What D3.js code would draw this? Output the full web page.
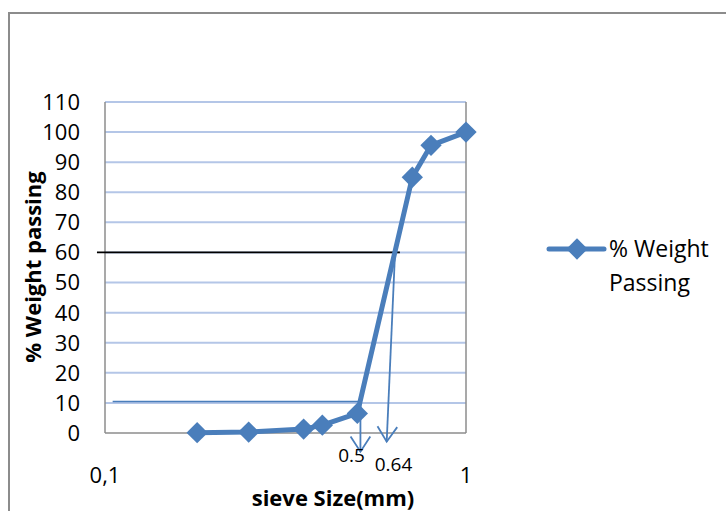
<!DOCTYPE html>
<html>
<head>
<meta charset="utf-8">
<script src="https://cdn.jsdelivr.net/npm/d3@7"></script>
<style>
  html, body { margin: 0; padding: 0; background: #fff; }
  svg { display: block; font-family: "Open Sans", sans-serif; }
</style>
</head>
<body>
<div id="chart"></div>
<script>
// sieve analysis data
var sieveSizes = [0.18, 0.25, 0.355, 0.4, 0.5, 0.71, 0.8, 1.0];
var weightPassing = [0.1, 0.3, 1.3, 2.6, 6.5, 85, 95.6, 100];
var yTicks = [0, 10, 20, 30, 40, 50, 60, 70, 80, 90, 100, 110];
var xTicks = [0.1, 1];
var xTickLabels = ['0,1', '1'];

// drawn annotations (data units)
var d60Line = { x: [0.095, 0.656], y: 60 };
var d10Line = { x: [0.105, 0.51], y: 10.5 };
var arrows = [
  { from: [0.51, 10.5], to: [0.51, -6.2] },
  { from: [0.636, 60], to: [0.603, -2.9] }
];
var arrowLabels = [
  { text: '0.5', x: 0.482, y: -9.5 },
  { text: '0.64', x: 0.63, y: -12.6 }
];

var W = 726, H = 511;
var blue = '#4a7ebb';

var svg = d3.select('#chart').append('svg')
  .attr('width', W).attr('height', H);

// chart area border (cropped by the picture)
svg.append('rect')
  .attr('x', 9).attr('y', 13)
  .attr('width', 900).attr('height', 700)
  .attr('fill', 'none').attr('stroke', '#8c8c8c').attr('stroke-width', 2);

var x = d3.scaleLog().domain([0.1, 1]).range([105, 466]);
var y = d3.scaleLinear().domain([0, 110]).range([433, 102]);

// gridlines
svg.append('g').selectAll('line')
  .data(yTicks.slice(1))
  .join('line')
  .attr('x1', x(0.1)).attr('x2', x(1))
  .attr('y1', function (d) { return y(d); })
  .attr('y2', function (d) { return y(d); })
  .attr('stroke', '#b4c6e7').attr('stroke-width', 2);

// plot border: left, right, bottom
var border = svg.append('g').attr('stroke', '#8c8c8c').attr('stroke-width', 1.5);
border.append('line').attr('x1', x(0.1)).attr('x2', x(0.1)).attr('y1', y(110)).attr('y2', y(0));
border.append('line').attr('x1', x(1)).attr('x2', x(1)).attr('y1', y(110)).attr('y2', y(0));
border.append('line').attr('x1', x(0.1)).attr('x2', x(1)).attr('y1', y(0)).attr('y2', y(0));

// y tick labels
svg.append('g').selectAll('text')
  .data(yTicks)
  .join('text')
  .attr('x', 80)
  .attr('y', function (d) { return y(d); })
  .attr('dy', '0.36em')
  .attr('text-anchor', 'end')
  .attr('font-size', '22px')
  .attr('fill', '#000')
  .text(function (d) { return d; });

// x tick labels
svg.append('g').selectAll('text')
  .data(xTicks)
  .join('text')
  .attr('x', function (d) { return x(d); })
  .attr('y', 483)
  .attr('text-anchor', 'middle')
  .attr('font-size', '22px')
  .attr('fill', '#000')
  .text(function (d, i) { return xTickLabels[i]; });

// axis titles
svg.append('text')
  .attr('x', 333).attr('y', 506)
  .attr('text-anchor', 'middle')
  .attr('font-size', '22px').attr('font-weight', 'bold')
  .text('sieve Size(mm)');

svg.append('text')
  .attr('transform', 'translate(41,267) rotate(-90)')
  .attr('text-anchor', 'middle')
  .attr('font-size', '22px').attr('font-weight', 'bold')
  .text('% Weight passing');

// annotation lines
svg.append('line')
  .attr('x1', x(d60Line.x[0])).attr('x2', x(d60Line.x[1]))
  .attr('y1', y(d60Line.y)).attr('y2', y(d60Line.y))
  .attr('stroke', '#000').attr('stroke-width', 1.8);

svg.append('line')
  .attr('x1', x(d10Line.x[0])).attr('x2', x(d10Line.x[1]))
  .attr('y1', y(d10Line.y)).attr('y2', y(d10Line.y))
  .attr('stroke', blue).attr('stroke-width', 1.5);

// arrows with open heads
var arrowG = svg.append('g').attr('stroke', blue).attr('stroke-width', 1.8).attr('fill', 'none');
arrows.forEach(function (a) {
  var x1 = x(a.from[0]), y1 = y(a.from[1]);
  var x2 = x(a.to[0]), y2 = y(a.to[1]);
  arrowG.append('line').attr('x1', x1).attr('y1', y1).attr('x2', x2).attr('y2', y2);
  var ang = Math.atan2(y2 - y1, x2 - x1);
  var len = 18, half = 0.58;
  var p1 = [x2 - len * Math.cos(ang - half), y2 - len * Math.sin(ang - half)];
  var p2 = [x2 - len * Math.cos(ang + half), y2 - len * Math.sin(ang + half)];
  arrowG.append('path')
    .attr('d', 'M' + p1[0] + ',' + p1[1] + 'L' + x2 + ',' + y2 + 'L' + p2[0] + ',' + p2[1]);
});

// data line
var pts = sieveSizes.map(function (s, i) { return [s, weightPassing[i]]; });
var line = d3.line()
  .x(function (d) { return x(d[0]); })
  .y(function (d) { return y(d[1]); });

svg.append('path')
  .datum(pts)
  .attr('d', line)
  .attr('fill', 'none')
  .attr('stroke', blue)
  .attr('stroke-width', 5)
  .attr('stroke-linejoin', 'round');

var diamond = d3.symbol().type(d3.symbolDiamond2).size(290);
svg.append('g').selectAll('path')
  .data(pts)
  .join('path')
  .attr('transform', function (d) { return 'translate(' + x(d[0]) + ',' + y(d[1]) + ')'; })
  .attr('d', diamond)
  .attr('fill', blue);

// arrow labels
svg.append('g').selectAll('text')
  .data(arrowLabels)
  .join('text')
  .attr('x', function (d) { return x(d.x); })
  .attr('y', function (d) { return y(d.y); })
  .attr('text-anchor', 'middle')
  .attr('font-size', '19px')
  .attr('fill', '#000')
  .text(function (d) { return d.text; });

// legend
var lg = svg.append('g');
lg.append('line')
  .attr('x1', 549).attr('x2', 604).attr('y1', 249).attr('y2', 249)
  .attr('stroke', blue).attr('stroke-width', 5).attr('stroke-linecap', 'round');
lg.append('path')
  .attr('transform', 'translate(577,249)')
  .attr('d', diamond)
  .attr('fill', blue);
lg.append('text')
  .attr('x', 609).attr('y', 257)
  .attr('font-size', '23px')
  .text('% Weight');
lg.append('text')
  .attr('x', 609).attr('y', 291)
  .attr('font-size', '23px')
  .text('Passing');
</script>
</body>
</html>
